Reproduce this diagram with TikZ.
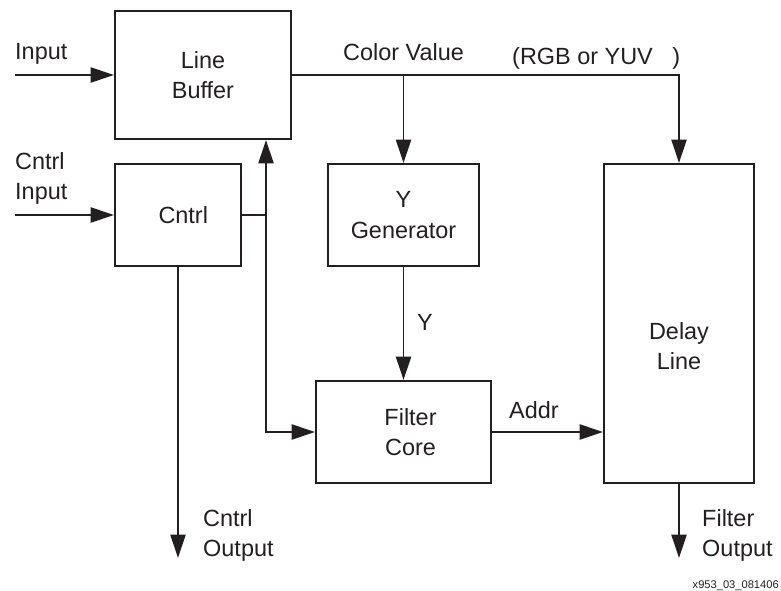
\documentclass[tikz,border=0pt]{standalone}
\usepackage{fontspec}
\setmainfont{Liberation Sans}
\usetikzlibrary{arrows.meta}
\definecolor{ink}{HTML}{231F20}

\begin{document}
\begin{tikzpicture}[x=0.03cm,y=-0.03cm,color=ink,>={Triangle[length=20pt,width=13pt]},
  font=\fontsize{20}{26}\selectfont,
  blk/.style={draw,line width=1.7pt,align=center,inner sep=0pt},
  wire/.style={line width=1.3pt},
  lbl/.style={inner sep=0pt,align=left}]
\useasboundingbox (0,0) rectangle (781,591);
\node[blk,minimum width=5.28cm,minimum height=3.84cm] (buf) at (203,75) {Line\\Buffer};
\node[blk,minimum width=3.78cm,minimum height=3.06cm] (ctl) at (178,215) {\hspace{9pt}Cntrl};
\node[blk,minimum width=4.53cm,minimum height=3.06cm] (ygen) at (403.5,215) {Y\\Generator};
\node[blk,minimum width=5.25cm,minimum height=3.06cm] (core) at (403.5,432) {\hspace{12pt}Filter\\\hspace{12pt}Core};
\node[blk,minimum width=4.5cm,minimum height=9.57cm] (delay) at (679,323.5) {};
\node[align=center,inner sep=0pt] (dltxt) at (679,346) {Delay\\Line};
\coordinate (in) at (15,75);
\coordinate (cin) at (15,215);
\coordinate (j) at (266,215);
\coordinate (cout) at (178,558);
\coordinate (fout) at (679,558);
\draw[wire,->] (in) -- (buf.west);
\draw[wire,->] (cin) -- (ctl.west);
\draw[wire,->] (buf.east) -| (delay.north);
\draw[wire,->] (ygen.north|-buf.east) -- (ygen.north);
\draw[wire,->] (ygen.south) -- (core.north);
\draw[wire] (ctl.east) -- (j);
\draw[wire,<->] (buf.south-|j) -- (j|-core.west) -- (core.west);
\draw[wire,->] (core.east) -- (delay.west|-core.east);
\draw[wire,->] (ctl.south) -- (cout);
\draw[wire,->] (delay.south) -- (fout);
\node[lbl,anchor=base west] (inlbl) at (15,60) {Input};
\node[lbl,anchor=west] (cinlbl) at (15,178.5) {Cntrl\\Input};
\node[lbl,anchor=base west] (cvlbl) at (343,61) {Color Value};
\node[lbl,anchor=base west] (rgblbl) at (512,64) {(RGB or YUV\ \ \ )};
\node[lbl,anchor=base west] (ylbl) at (417,330) {Y};
\node[lbl,anchor=base west] (addrlbl) at (509,418) {Addr};
\node[lbl,anchor=west] (coutlbl) at (203,535.5) {Cntrl\\Output};
\node[lbl,anchor=west] (foutlbl) at (702,535.5) {Filter\\Output};
\node[lbl,anchor=base east,font=\fontsize{9.5}{11}\selectfont] (figid) at (779,588) {x953\_03\_081406};
\end{tikzpicture}
\end{document}
